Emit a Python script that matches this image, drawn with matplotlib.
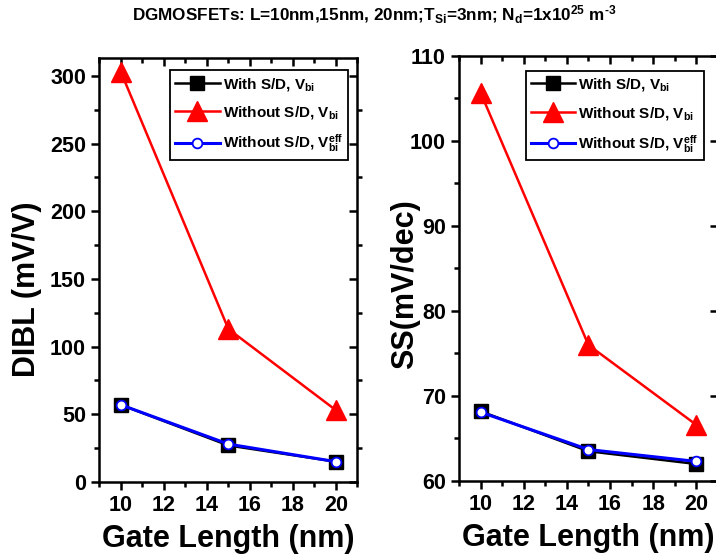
import matplotlib
matplotlib.use('Agg')
import matplotlib.pyplot as plt
from matplotlib.ticker import MultipleLocator

plt.rcParams['font.family'] = ['Liberation Sans', 'DejaVu Sans']
plt.rcParams['font.weight'] = 'bold'
plt.rcParams['mathtext.fontset'] = 'custom'
plt.rcParams['mathtext.bf'] = 'Liberation Sans:bold'
plt.rcParams['mathtext.rm'] = 'Liberation Sans:bold'
plt.rcParams['mathtext.default'] = 'bf'

# data
gate_len = [10, 15, 20]
dibl_with = [57, 27, 15]
dibl_without = [303, 113, 53]
dibl_eff = [57, 28, 15]
ss_with = [68.2, 63.5, 62.0]
ss_without = [105.7, 76.0, 66.6]
ss_eff = [68.1, 63.7, 62.3]

labels = ['With S/D, V$_{bi}$', 'Without S/D, V$_{bi}$', 'Without S/D, V$_{bi}^{eff}$']

fig = plt.figure(figsize=(7.16, 5.6), dpi=100)
ax1 = fig.add_axes([0.1387, 0.1393, 0.3606, 0.7566])
ax2 = fig.add_axes([0.641, 0.1411, 0.3617, 0.7589])


def draw(ax, y1, y2, y3):
    ax.plot(gate_len, y1, color='black', lw=1.8, marker='s', ms=10,
            mfc='black', mec='black', label=labels[0])
    ax.plot(gate_len, y2, color='red', lw=1.8, marker='^', ms=14,
            mfc='red', mec='red', label=labels[1])
    ax.plot(gate_len, y3, color='blue', lw=2.2, marker='o', ms=7,
            mfc='white', mec='blue', mew=1.3, label=labels[2])
    ax.set_xlim(9, 21)
    ax.xaxis.set_major_locator(MultipleLocator(2))
    ax.xaxis.set_minor_locator(MultipleLocator(1))
    ax.tick_params(which='both', direction='out', width=1.8, labelsize=15.5,
                   top=True, right=True)
    ax.tick_params(which='major', length=6)
    ax.tick_params(which='minor', length=3.5)
    # top/right ticks point inward
    for t in ax.xaxis.get_major_ticks() + ax.xaxis.get_minor_ticks():
        t.tick2line.set_marker(3)
    for t in ax.yaxis.get_major_ticks() + ax.yaxis.get_minor_ticks():
        t.tick2line.set_marker(0)
    for s in ax.spines.values():
        s.set_linewidth(1.8)
    for lab in ax.get_xticklabels() + ax.get_yticklabels():
        lab.set_fontweight('bold')
    ax.set_xlabel('Gate Length (nm)', fontsize=22, fontweight='bold')
    ax.xaxis.set_label_coords(0.5, -0.1)
    ax.xaxis.label.set_va('top')


def add_legend(ax, anchor):
    leg = ax.legend(loc='upper right', bbox_to_anchor=anchor, borderaxespad=0,
                    fontsize=11, fancybox=False, edgecolor='black', framealpha=1,
                    handlelength=2.9, handletextpad=0.2, labelspacing=0.75,
                    borderpad=0.35)
    leg.get_frame().set_linewidth(1.3)


draw(ax1, dibl_with, dibl_without, dibl_eff)
ax1.set_ylim(0, 313)
ax1.yaxis.set_major_locator(MultipleLocator(50))
ax1.yaxis.set_minor_locator(MultipleLocator(25))
ax1.set_ylabel('DIBL (mV/V)', fontsize=22, fontweight='bold')
ax1.yaxis.set_label_coords(-0.28, 0.455)
ax1.yaxis.label.set_va('center')
add_legend(ax1, (0.964, 0.972))

draw(ax2, ss_with, ss_without, ss_eff)
ax2.set_ylim(60, 110)
ax2.yaxis.set_major_locator(MultipleLocator(10))
ax2.yaxis.set_minor_locator(MultipleLocator(5))
ax2.set_ylabel('SS(mV/dec)', fontsize=22, fontweight='bold')
ax2.yaxis.set_label_coords(-0.208, 0.463)
ax2.yaxis.label.set_va('center')
add_legend(ax2, (0.946, 0.965))

fig.text(0.523, 0.974,
         'DGMOSFETs: L=10nm,15nm, 20nm;T$_{Si}$=3nm; N$_{d}$=1x10$^{25}$ m$^{\\text{-}3}$',
         ha='center', va='center', fontsize=12.3, fontweight='bold')

fig.savefig('out.png', dpi=100)
